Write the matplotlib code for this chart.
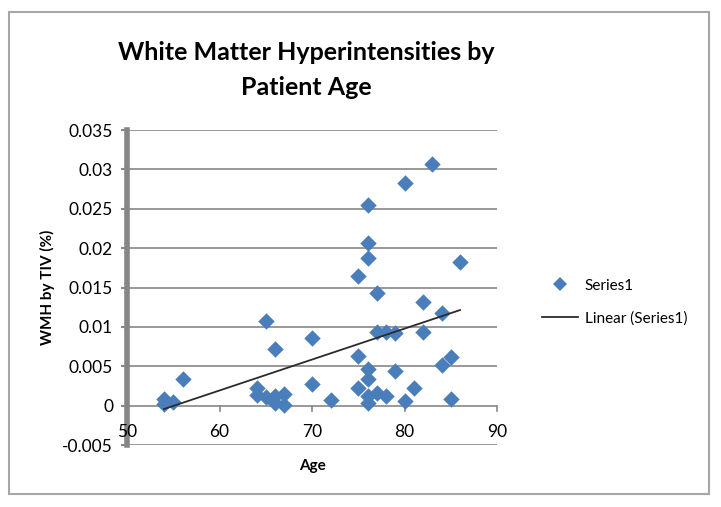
import numpy as np
import matplotlib
matplotlib.use('Agg')
from matplotlib import pyplot as plt
from matplotlib.patches import Rectangle
from matplotlib.lines import Line2D

# data
age = [54, 54, 55, 56, 64, 64, 65, 65, 66, 66, 66, 67, 67, 70, 70,
       72, 75, 75, 75, 76, 76, 76, 76, 76, 76, 76, 77, 77, 77, 78, 78,
       79, 79, 80, 80, 81, 82, 82, 83, 84, 84, 85, 85, 86]
wmh = [0.00085, 0.00025, 0.0004, 0.0034, 0.0023, 0.00135, 0.0107, 0.0011,
       0.0072, 0.0012, 0.0003, 0.0015, 0.0001, 0.0086, 0.0027,
       0.0007, 0.0164, 0.0063, 0.0022, 0.0255, 0.0206, 0.0188, 0.0047,
       0.0034, 0.0012, 0.0003, 0.0143, 0.0094, 0.0016, 0.0094, 0.0012,
       0.0092, 0.0044, 0.0283, 0.00055, 0.0023, 0.0132, 0.0094, 0.0307,
       0.0118, 0.0051, 0.0062, 0.0009, 0.0183]
xticks = [50, 60, 70, 80, 90]
yticks = [-0.005, 0, 0.005, 0.01, 0.015, 0.02, 0.025, 0.03, 0.035]
ylabels = ['-0.005', '0', '0.005', '0.01', '0.015', '0.02', '0.025', '0.03', '0.035']

plt.rcParams['font.family'] = ['Lato', 'DejaVu Sans']
blue = '#4a7ebb'
grey = '#868686'

fig = plt.figure(figsize=(7.21, 5.07), dpi=100)
# outer chart border
fig.patches.append(Rectangle((9/721, 1-494/507), 700/721, 482/507, transform=fig.transFigure,
                             fill=False, edgecolor='#a6a6a6', lw=1.5))

ax = fig.add_axes([127/721, 1-445/507, 370/721, 315/507])
ax.set_xlim(50, 90)
ax.set_ylim(-0.005, 0.035)

for y in yticks:
    ax.axhline(y, color=grey, lw=1.2, zorder=0)

ax.scatter(age, wmh, marker='D', s=70, color=blue, zorder=3, linewidths=0)

# linear trend
k, b = np.polyfit(age, wmh, 1)
xs = np.array([min(age), max(age)])
ax.plot(xs, k*xs + b, color='#2b2b2b', lw=1.3, zorder=4)

for s in ['top', 'right', 'bottom']:
    ax.spines[s].set_visible(False)
ax.spines['left'].set_color(grey)
ax.spines['left'].set_linewidth(4)

ax.set_yticks(yticks)
ax.set_yticklabels(ylabels, fontsize=12.5)
ax.tick_params(axis='y', length=4, width=1.5, color=grey, pad=6)
ax.set_xticks([])

# x axis sits at y = 0
for x in xticks:
    ax.plot([x, x], [0, -0.0007], color=grey, lw=1.2, clip_on=False)
    ax.text(x, -0.0033, str(x), ha='center', va='center', fontsize=12.5)

ax.set_xlabel('Age', fontsize=11, fontweight='bold', labelpad=10)
ax.set_ylabel('WMH by TIV (%)', fontsize=11, fontweight='bold', labelpad=5)

fig.text(0.425, 1-70/507, 'White Matter Hyperintensities by\nPatient Age', ha='center', va='center',
         fontsize=18, fontweight='bold', linespacing=1.6)

handles = [Line2D([], [], marker='D', ls='none', color=blue, markersize=7.5, markeredgewidth=0),
           Line2D([], [], color='#2b2b2b', lw=1.3)]
fig.legend(handles, ['Series1', 'Linear (Series1)'], loc='center left',
           bbox_to_anchor=(528/721, 1-302/507), frameon=False, fontsize=11,
           handlelength=2.4, labelspacing=1.2, handletextpad=0.4)

fig.savefig('out.png', dpi=100)
